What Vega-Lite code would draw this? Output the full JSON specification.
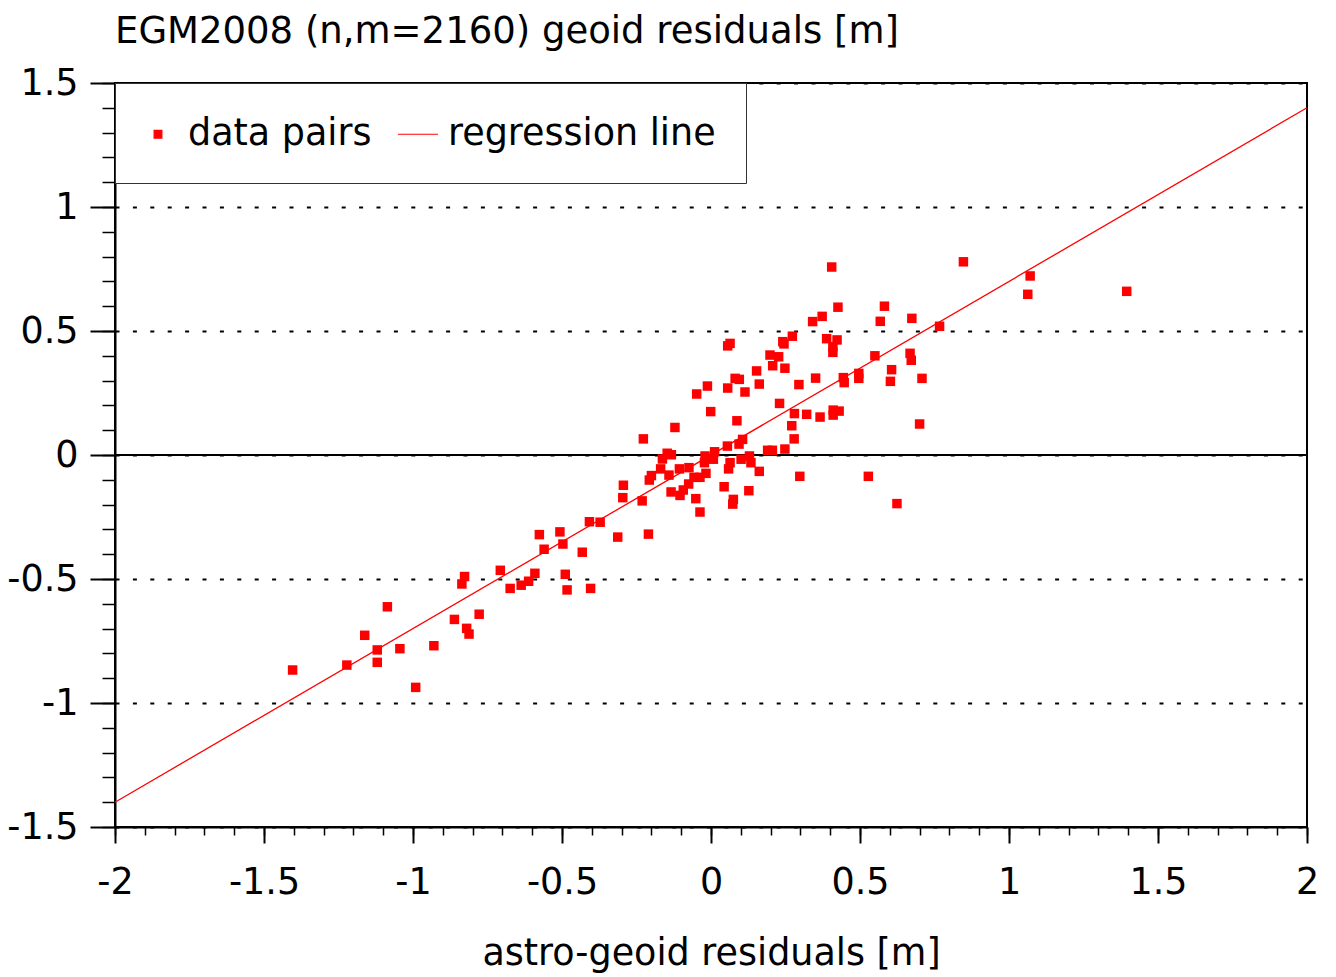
{
  "$schema": "https://vega.github.io/schema/vega-lite/v6.json",
  "width": 1192,
  "height": 744,
  "autosize": {"type": "none"},
  "padding": {"left": 115, "top": 83, "right": 29, "bottom": 150},
  "background": "white",
  "title": {
    "text": "EGM2008 (n,m=2160) geoid residuals [m]",
    "anchor": "start",
    "frame": "group",
    "font": "DejaVu Sans",
    "fontSize": 37,
    "fontWeight": "normal",
    "color": "black",
    "baseline": "alphabetic",
    "offset": -15
  },
  "config": {
    "view": {"stroke": "black", "strokeWidth": 2}
  },
  "resolve": {"axis": {"x": "independent", "y": "independent"}},
  "layer": [
    {
      "data": {"values": [{"v": 0}]},
      "mark": {"type": "rule", "color": "black", "strokeWidth": 2},
      "encoding": {
        "y": {"field": "v", "type": "quantitative", "scale": {"domain": [-1.5, 1.5], "nice": false, "zero": false}, "axis": null}
      }
    },
    {
      "data": {"values": [{"x": -2, "y": -1.4}, {"x": 2, "y": 1.4}]},
      "mark": {"type": "line", "color": "#ff0000", "strokeWidth": 1.3},
      "encoding": {
        "x": {"field": "x", "type": "quantitative", "scale": {"domain": [-2, 2], "nice": false, "zero": false},
          "axis": {"orient": "bottom", "values": [-2,-1.9,-1.8,-1.7,-1.6,-1.5,-1.4,-1.3,-1.2,-1.1,-1,-0.9,-0.8,-0.7,-0.6,-0.5,-0.4,-0.3,-0.2,-0.1,0,0.1,0.2,0.3,0.4,0.5,0.6,0.7,0.8,0.9,1,1.1,1.2,1.3,1.4,1.5,1.6,1.7,1.8,1.9,2],
            "labels": false, "domain": false, "grid": false, "title": null, "tickSize": 8, "tickWidth": 1.5, "tickColor": "black"}},
        "y": {"field": "y", "type": "quantitative", "scale": {"domain": [-1.5, 1.5], "nice": false, "zero": false},
          "axis": {"orient": "left", "values": [-1.5,-1.4,-1.3,-1.2,-1.1,-1,-0.9,-0.8,-0.7,-0.6,-0.5,-0.4,-0.3,-0.2,-0.1,0,0.1,0.2,0.3,0.4,0.5,0.6,0.7,0.8,0.9,1,1.1,1.2,1.3,1.4,1.5],
            "labels": false, "domain": false, "grid": false, "title": null, "tickSize": 13, "tickWidth": 1.5, "tickColor": "black"}}
      }
    },
    {
      "data": {"values": [
        {"x": -1.404, "y": -0.867, "series": "data pairs"},
        {"x": -1.222, "y": -0.847, "series": "data pairs"},
        {"x": -1.162, "y": -0.727, "series": "data pairs"},
        {"x": -1.120, "y": -0.786, "series": "data pairs"},
        {"x": -1.120, "y": -0.836, "series": "data pairs"},
        {"x": -1.086, "y": -0.612, "series": "data pairs"},
        {"x": -1.044, "y": -0.781, "series": "data pairs"},
        {"x": -0.991, "y": -0.937, "series": "data pairs"},
        {"x": -0.930, "y": -0.769, "series": "data pairs"},
        {"x": -0.861, "y": -0.663, "series": "data pairs"},
        {"x": -0.836, "y": -0.520, "series": "data pairs"},
        {"x": -0.827, "y": -0.490, "series": "data pairs"},
        {"x": -0.820, "y": -0.699, "series": "data pairs"},
        {"x": -0.812, "y": -0.722, "series": "data pairs"},
        {"x": -0.778, "y": -0.642, "series": "data pairs"},
        {"x": -0.707, "y": -0.465, "series": "data pairs"},
        {"x": -0.674, "y": -0.538, "series": "data pairs"},
        {"x": -0.637, "y": -0.525, "series": "data pairs"},
        {"x": -0.612, "y": -0.509, "series": "data pairs"},
        {"x": -0.591, "y": -0.477, "series": "data pairs"},
        {"x": -0.576, "y": -0.321, "series": "data pairs"},
        {"x": -0.560, "y": -0.380, "series": "data pairs"},
        {"x": -0.507, "y": -0.310, "series": "data pairs"},
        {"x": -0.497, "y": -0.359, "series": "data pairs"},
        {"x": -0.489, "y": -0.481, "series": "data pairs"},
        {"x": -0.483, "y": -0.544, "series": "data pairs"},
        {"x": -0.432, "y": -0.392, "series": "data pairs"},
        {"x": -0.408, "y": -0.269, "series": "data pairs"},
        {"x": -0.404, "y": -0.538, "series": "data pairs"},
        {"x": -0.372, "y": -0.271, "series": "data pairs"},
        {"x": -0.313, "y": -0.331, "series": "data pairs"},
        {"x": -0.294, "y": -0.122, "series": "data pairs"},
        {"x": -0.296, "y": -0.172, "series": "data pairs"},
        {"x": -0.231, "y": -0.185, "series": "data pairs"},
        {"x": -0.227, "y": 0.065, "series": "data pairs"},
        {"x": -0.210, "y": -0.319, "series": "data pairs"},
        {"x": -0.207, "y": -0.101, "series": "data pairs"},
        {"x": -0.200, "y": -0.083, "series": "data pairs"},
        {"x": -0.169, "y": -0.056, "series": "data pairs"},
        {"x": -0.163, "y": -0.016, "series": "data pairs"},
        {"x": -0.147, "y": 0.007, "series": "data pairs"},
        {"x": -0.133, "y": 0.001, "series": "data pairs"},
        {"x": -0.141, "y": -0.081, "series": "data pairs"},
        {"x": -0.134, "y": -0.149, "series": "data pairs"},
        {"x": -0.106, "y": -0.056, "series": "data pairs"},
        {"x": -0.074, "y": -0.051, "series": "data pairs"},
        {"x": -0.104, "y": -0.163, "series": "data pairs"},
        {"x": -0.093, "y": -0.141, "series": "data pairs"},
        {"x": -0.075, "y": -0.117, "series": "data pairs"},
        {"x": -0.057, "y": -0.090, "series": "data pairs"},
        {"x": -0.037, "y": -0.090, "series": "data pairs"},
        {"x": -0.017, "y": -0.074, "series": "data pairs"},
        {"x": -0.051, "y": -0.176, "series": "data pairs"},
        {"x": -0.037, "y": -0.230, "series": "data pairs"},
        {"x": -0.020, "y": -0.004, "series": "data pairs"},
        {"x": -0.022, "y": -0.031, "series": "data pairs"},
        {"x": 0.008, "y": -0.017, "series": "data pairs"},
        {"x": 0.012, "y": 0.013, "series": "data pairs"},
        {"x": 0.044, "y": -0.128, "series": "data pairs"},
        {"x": 0.055, "y": 0.036, "series": "data pairs"},
        {"x": 0.064, "y": -0.031, "series": "data pairs"},
        {"x": 0.059, "y": -0.056, "series": "data pairs"},
        {"x": 0.075, "y": -0.179, "series": "data pairs"},
        {"x": 0.073, "y": -0.198, "series": "data pairs"},
        {"x": 0.094, "y": 0.044, "series": "data pairs"},
        {"x": 0.106, "y": 0.063, "series": "data pairs"},
        {"x": 0.101, "y": -0.017, "series": "data pairs"},
        {"x": 0.127, "y": -0.144, "series": "data pairs"},
        {"x": 0.087, "y": 0.138, "series": "data pairs"},
        {"x": -0.121, "y": 0.111, "series": "data pairs"},
        {"x": -0.048, "y": 0.246, "series": "data pairs"},
        {"x": -0.012, "y": 0.278, "series": "data pairs"},
        {"x": -0.001, "y": 0.175, "series": "data pairs"},
        {"x": 0.056, "y": 0.440, "series": "data pairs"},
        {"x": 0.064, "y": 0.450, "series": "data pairs"},
        {"x": 0.056, "y": 0.270, "series": "data pairs"},
        {"x": 0.081, "y": 0.309, "series": "data pairs"},
        {"x": 0.095, "y": 0.305, "series": "data pairs"},
        {"x": 0.114, "y": 0.254, "series": "data pairs"},
        {"x": 0.153, "y": 0.339, "series": "data pairs"},
        {"x": 0.162, "y": 0.286, "series": "data pairs"},
        {"x": 0.198, "y": 0.403, "series": "data pairs"},
        {"x": 0.227, "y": 0.396, "series": "data pairs"},
        {"x": 0.207, "y": 0.360, "series": "data pairs"},
        {"x": 0.248, "y": 0.350, "series": "data pairs"},
        {"x": 0.241, "y": 0.457, "series": "data pairs"},
        {"x": 0.245, "y": 0.448, "series": "data pairs"},
        {"x": 0.273, "y": 0.479, "series": "data pairs"},
        {"x": 0.341, "y": 0.538, "series": "data pairs"},
        {"x": 0.230, "y": 0.208, "series": "data pairs"},
        {"x": 0.295, "y": 0.284, "series": "data pairs"},
        {"x": 0.351, "y": 0.310, "series": "data pairs"},
        {"x": 0.280, "y": 0.167, "series": "data pairs"},
        {"x": 0.321, "y": 0.164, "series": "data pairs"},
        {"x": 0.271, "y": 0.118, "series": "data pairs"},
        {"x": 0.366, "y": 0.153, "series": "data pairs"},
        {"x": 0.405, "y": 0.758, "series": "data pairs"},
        {"x": 0.426, "y": 0.596, "series": "data pairs"},
        {"x": 0.582, "y": 0.600, "series": "data pairs"},
        {"x": 0.373, "y": 0.559, "series": "data pairs"},
        {"x": 0.568, "y": 0.539, "series": "data pairs"},
        {"x": 0.674, "y": 0.551, "series": "data pairs"},
        {"x": 0.767, "y": 0.519, "series": "data pairs"},
        {"x": 0.388, "y": 0.469, "series": "data pairs"},
        {"x": 0.423, "y": 0.464, "series": "data pairs"},
        {"x": 0.409, "y": 0.437, "series": "data pairs"},
        {"x": 0.409, "y": 0.414, "series": "data pairs"},
        {"x": 0.550, "y": 0.400, "series": "data pairs"},
        {"x": 0.668, "y": 0.410, "series": "data pairs"},
        {"x": 0.672, "y": 0.382, "series": "data pairs"},
        {"x": 0.606, "y": 0.344, "series": "data pairs"},
        {"x": 0.602, "y": 0.297, "series": "data pairs"},
        {"x": 0.708, "y": 0.309, "series": "data pairs"},
        {"x": 0.496, "y": 0.329, "series": "data pairs"},
        {"x": 0.496, "y": 0.309, "series": "data pairs"},
        {"x": 0.444, "y": 0.312, "series": "data pairs"},
        {"x": 0.447, "y": 0.292, "series": "data pairs"},
        {"x": 0.410, "y": 0.181, "series": "data pairs"},
        {"x": 0.430, "y": 0.177, "series": "data pairs"},
        {"x": 0.410, "y": 0.161, "series": "data pairs"},
        {"x": 0.700, "y": 0.125, "series": "data pairs"},
        {"x": 0.847, "y": 0.779, "series": "data pairs"},
        {"x": 1.071, "y": 0.722, "series": "data pairs"},
        {"x": 1.063, "y": 0.648, "series": "data pairs"},
        {"x": 1.395, "y": 0.660, "series": "data pairs"},
        {"x": 0.279, "y": 0.065, "series": "data pairs"},
        {"x": 0.190, "y": 0.019, "series": "data pairs"},
        {"x": 0.206, "y": 0.019, "series": "data pairs"},
        {"x": 0.248, "y": 0.024, "series": "data pairs"},
        {"x": 0.129, "y": -0.004, "series": "data pairs"},
        {"x": 0.134, "y": -0.031, "series": "data pairs"},
        {"x": 0.162, "y": -0.066, "series": "data pairs"},
        {"x": 0.298, "y": -0.086, "series": "data pairs"},
        {"x": 0.528, "y": -0.086, "series": "data pairs"},
        {"x": 0.624, "y": -0.196, "series": "data pairs"}
      ]},
      "mark": {"type": "point", "filled": true, "opacity": 1, "size": 90, "strokeWidth": 0},
      "encoding": {
        "x": {"field": "x", "type": "quantitative", "scale": {"domain": [-2, 2], "nice": false, "zero": false},
          "axis": {"orient": "bottom", "values": [-2,-1.5,-1,-0.5,0,0.5,1,1.5,2], "labelExpr": "'' + datum.value",
            "title": "astro-geoid residuals [m]", "titleFont": "DejaVu Sans", "titleFontSize": 36.5, "titleFontWeight": "normal", "titleColor": "black", "titlePadding": 35,
            "labelFont": "DejaVu Sans", "labelFontSize": 36.5, "labelColor": "black", "labelPadding": 21, "labelFlush": false, "labelOverlap": false,
            "tickSize": 16, "tickWidth": 2, "tickColor": "black", "domainColor": "black", "domainWidth": 2, "grid": false}},
        "y": {"field": "y", "type": "quantitative", "scale": {"domain": [-1.5, 1.5], "nice": false, "zero": false},
          "axis": {"orient": "left", "values": [-1.5,-1,-0.5,0,0.5,1,1.5], "labelExpr": "'' + datum.value", "title": null,
            "labelFont": "DejaVu Sans", "labelFontSize": 36.5, "labelColor": "black", "labelPadding": 12, "labelFlush": false, "labelOverlap": false,
            "tickSize": 25, "tickWidth": 2, "tickColor": "black", "domainColor": "black", "domainWidth": 2,
            "grid": true, "gridColor": "black", "gridDash": [4, 13.4], "gridWidth": 2, "gridOpacity": 1}},
        "color": {"field": "series", "type": "nominal",
          "scale": {"domain": ["data pairs", "regression line"], "range": ["#ff0000", "#ff0000"]},
          "legend": {"title": null, "orient": "top-left", "offset": 0, "direction": "horizontal", "fillColor": "white", "strokeColor": "#333333", "padding": 30,
            "labelFont": "DejaVu Sans", "labelFontSize": 36.5, "labelColor": "black", "labelLimit": 600, "labelOffset": 9, "columnPadding": 23,
            "symbolSize": 1600, "symbolOffset": -8, "symbolStrokeWidth": 1.2, "symbolStrokeColor": "#ff0000", "symbolFillColor": "#ff0000", "symbolOpacity": 1,
            "encode": {"symbols": {"update": {"size": {"signal": "datum.value === 'data pairs' ? 60 : 1600"}}}}}},
        "shape": {"field": "series", "type": "nominal",
          "scale": {"domain": ["data pairs", "regression line"], "range": ["square", "stroke"]},
          "legend": {"title": null, "orient": "top-left", "offset": 0, "direction": "horizontal", "fillColor": "white", "strokeColor": "#333333", "padding": 30,
            "labelFont": "DejaVu Sans", "labelFontSize": 36.5, "labelColor": "black", "labelLimit": 600, "labelOffset": 9, "columnPadding": 23,
            "symbolSize": 1600, "symbolOffset": -8, "symbolStrokeWidth": 1.2, "symbolStrokeColor": "#ff0000", "symbolFillColor": "#ff0000", "symbolOpacity": 1,
            "encode": {"symbols": {"update": {"size": {"signal": "datum.value === 'data pairs' ? 60 : 1600"}}}}}}
      }
    }
  ]
}
